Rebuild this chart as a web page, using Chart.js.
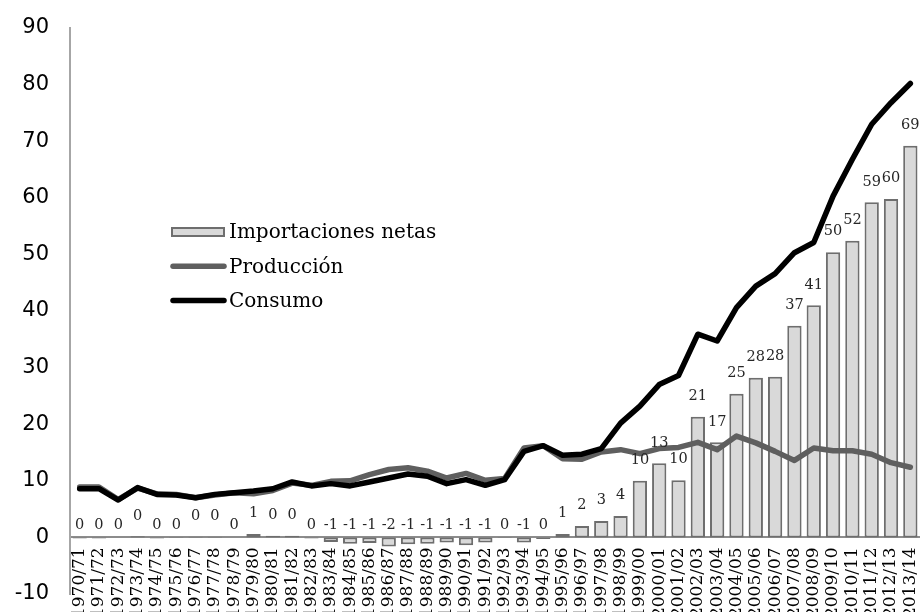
<!DOCTYPE html>
<html>
<head>
<meta charset="utf-8">
<script src="https://cdn.jsdelivr.net/npm/chart.js@4/dist/chart.umd.min.js"></script>
<style>
  html, body { margin: 0; padding: 0; background: #ffffff; overflow: hidden; }
  #wrap { position: relative; width: 920px; height: 612px; }
</style>
</head>
<body>
<div id="wrap"><canvas id="grafico"></canvas></div>
<script>
// Campañas agrícolas
const campanas = [
  '1970/71','1971/72','1972/73','1973/74','1974/75','1975/76','1976/77','1977/78',
  '1978/79','1979/80','1980/81','1981/82','1982/83','1983/84','1984/85','1985/86',
  '1986/87','1987/88','1988/89','1989/90','1990/91','1991/92','1992/93','1993/94',
  '1994/95','1995/96','1996/97','1997/98','1998/99','1999/00','2000/01','2001/02',
  '2002/03','2003/04','2004/05','2005/06','2006/07','2007/08','2008/09','2009/10',
  '2010/11','2011/12','2012/13','2013/14'
];

// Importaciones netas
const importaciones = [
  -0.2, -0.2, 0, 0.2, -0.2, -0.1, 0.1, 0.1, 0, 0.6, 0.3, 0.3, -0.2,
  -0.8, -1.1, -1.0, -1.6, -1.2, -1.1, -0.9, -1.4, -0.9, -0.1,
  -0.9, -0.3, 0.6, 2.0, 2.9, 3.8, 10.0, 13.1, 10.1, 21.3, 16.8, 25.4,
  28.2, 28.4, 37.4, 41.0, 50.4, 52.4, 59.2, 59.8, 69.2
];

// Producción
const produccion = [
  8.9, 8.9, 6.7, 8.7, 7.7, 7.6, 7.0, 7.5, 7.9, 7.7, 8.3, 9.6, 9.2,
  9.9, 10.0, 11.1, 12.0, 12.3, 11.7, 10.5, 11.3, 10.1, 10.4,
  15.8, 16.2, 13.9, 13.8, 15.1, 15.5, 14.8, 15.7, 15.9, 16.8, 15.5, 17.9,
  16.7, 15.2, 13.6, 15.8, 15.3, 15.3, 14.7, 13.2, 12.4
];

// Consumo
const consumo = [
  8.6, 8.6, 6.6, 8.8, 7.6, 7.5, 7.0, 7.6, 7.9, 8.2, 8.6, 9.8, 9.1,
  9.5, 9.1, 9.8, 10.5, 11.2, 10.8, 9.5, 10.2, 9.2, 10.2,
  15.2, 16.2, 14.5, 14.7, 15.7, 20.2, 23.2, 27.0, 28.6, 35.9, 34.7, 40.6,
  44.4, 46.6, 50.3, 52.1, 60.3, 66.8, 73.0, 76.8, 80.2
];

const serif = '"DejaVu Serif", serif';

// Etiquetas de valor sobre las columnas de importaciones
const etiquetasValor = {
  id: 'etiquetasValor',
  afterDatasetsDraw(chart) {
    const meta = chart.getDatasetMeta(0);
    const cero = chart.scales.y.getPixelForValue(0);
    const ctx = chart.ctx;
    ctx.save();
    ctx.font = '14.5px ' + serif;
    ctx.fillStyle = '#262626';
    ctx.textAlign = 'center';
    ctx.textBaseline = 'middle';
    meta.data.forEach((barra, i) => {
      const v = importaciones[i];
      let t = Math.round(v);
      if (Object.is(t, -0)) t = 0;
      const y = v > 0 ? barra.y - 20.5 : cero - 12;
      ctx.fillText(String(t), barra.x, y);
    });
    ctx.restore();
  }
};

// Leyenda dentro del área de trazado
const leyenda = {
  id: 'leyenda',
  afterDraw(chart, args, opts) {
    const ctx = chart.ctx;
    const ds = chart.data.datasets;
    ctx.save();
    ctx.font = '20px ' + serif;
    ctx.textBaseline = 'middle';
    ctx.textAlign = 'left';
    ds.forEach((d, i) => {
      const y = opts.y + i * opts.paso;
      if (d.type === 'bar') {
        ctx.fillStyle = d.backgroundColor;
        ctx.strokeStyle = d.borderColor;
        ctx.lineWidth = 2;
        ctx.fillRect(opts.x + 1, y - 4, opts.ancho - 2, 8);
        ctx.strokeRect(opts.x + 1, y - 4, opts.ancho - 2, 8);
      } else {
        ctx.strokeStyle = d.borderColor;
        ctx.lineWidth = 5.5;
        ctx.lineCap = 'round';
        ctx.beginPath();
        ctx.moveTo(opts.x + 2, y);
        ctx.lineTo(opts.x + opts.ancho - 1, y);
        ctx.stroke();
      }
      ctx.fillStyle = '#000000';
      ctx.fillText(d.label, opts.x + opts.ancho + 4, y + 1);
    });
    ctx.restore();
  }
};

new Chart(document.getElementById('grafico'), {
  data: {
    labels: campanas,
    datasets: [
      {
        type: 'bar',
        label: 'Importaciones netas',
        data: importaciones,
        backgroundColor: '#d9d9d9',
        borderColor: '#6e6e6e',
        borderWidth: 2,
        borderSkipped: false,
        categoryPercentage: 1.0,
        barPercentage: 0.74,
        order: 3
      },
      {
        type: 'line',
        label: 'Producción',
        data: produccion,
        borderColor: '#5f5f5f',
        backgroundColor: '#5f5f5f',
        borderWidth: 5.5,
        pointRadius: 0,
        tension: 0,
        borderJoinStyle: 'round',
        borderCapStyle: 'round',
        order: 2
      },
      {
        type: 'line',
        label: 'Consumo',
        data: consumo,
        borderColor: '#000000',
        backgroundColor: '#000000',
        borderWidth: 5.5,
        pointRadius: 0,
        tension: 0,
        borderJoinStyle: 'round',
        borderCapStyle: 'round',
        order: 1
      }
    ]
  },
  options: {
    responsive: true,
    maintainAspectRatio: false,
    devicePixelRatio: 1,
    animation: false,
    layout: { padding: { top: 28, bottom: 18, left: 0, right: 0 } },
    plugins: {
      legend: { display: false },
      tooltip: { enabled: false },
      leyenda: { x: 171, y: 232, paso: 34.3, ancho: 54 }
    },
    scales: {
      x: {
        type: 'category',
        offset: true,
        position: { y: 0 },
        grid: { display: false, drawTicks: false },
        border: { display: true, color: '#8c8c8c', width: 2 },
        ticks: {
          autoSkip: false,
          minRotation: 90,
          maxRotation: 90,
          padding: 10,
          color: '#000000',
          font: { family: serif, size: 17 }
        },
        afterFit(scale) { scale.paddingLeft = 0; scale.paddingRight = 0; }
      },
      y: {
        min: -10,
        max: 90,
        grid: { display: false, drawTicks: false },
        border: { display: true, color: '#a6a6a6', width: 2 },
        ticks: {
          stepSize: 10,
          padding: 21,
          color: '#000000',
          font: { family: '"DejaVu Sans", sans-serif', size: 21 }
        },
        afterFit(scale) {
          scale.width = 70;
          scale.paddingTop = 0;
          scale.paddingBottom = 0;
        }
      }
    }
  },
  plugins: [etiquetasValor, leyenda]
});
</script>
</body>
</html>
